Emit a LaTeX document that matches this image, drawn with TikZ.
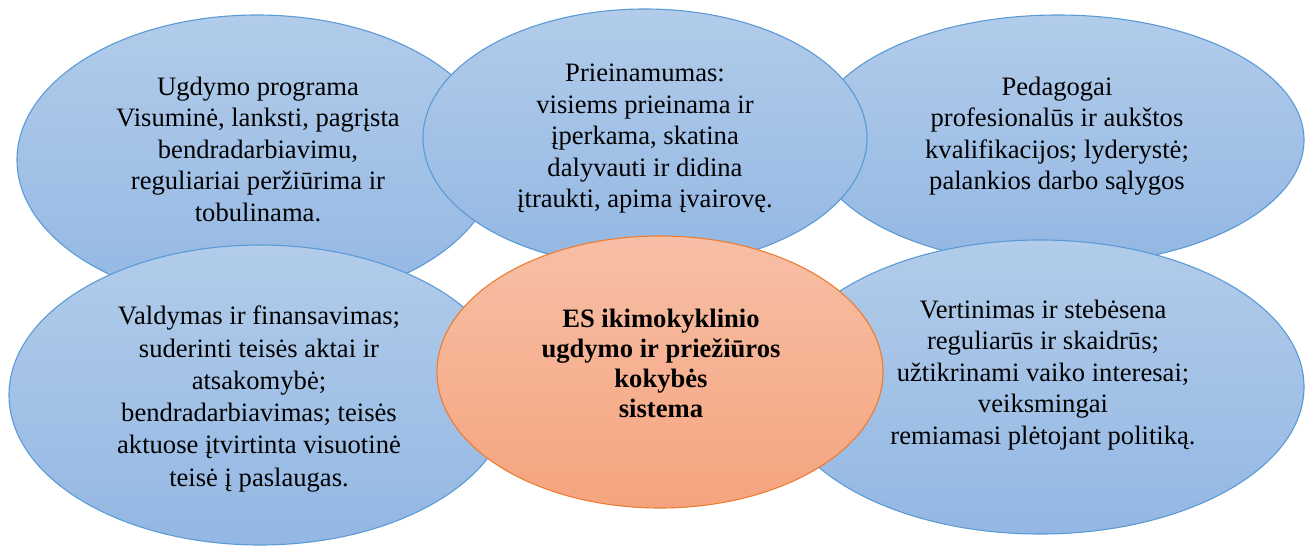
\documentclass[tikz,border=0pt]{standalone}
\usepackage{fontspec}
\setmainfont{Liberation Serif}
\usetikzlibrary{shapes.geometric}
\definecolor{bluetop}{HTML}{B2CCEA}
\definecolor{bluebot}{HTML}{93B7E3}
\definecolor{bluedraw}{HTML}{5B9BD5}
\definecolor{orgtop}{HTML}{F7BFA6}
\definecolor{orgbot}{HTML}{F5A47E}
\definecolor{orgdraw}{HTML}{ED7D31}
\tikzset{
  blueell/.style={ellipse, inner sep=0pt, draw=bluedraw, line width=1.1pt, top color=bluetop, bottom color=bluebot},
  orangeell/.style={ellipse, inner sep=0pt, draw=orgdraw, line width=1.1pt, top color=orgtop, bottom color=orgbot},
  txt/.style={align=center, inner sep=0pt, font=\fontsize{26.6}{31.5}\selectfont, text=black}
}
\begin{document}
\begin{tikzpicture}[x=1pt,y=-1pt]
\useasboundingbox (0,0) rectangle (1307,546);
\node[blueell, minimum width=480pt, minimum height=290pt] (tl) at (257,160) {};
\node[blueell, minimum width=492pt, minimum height=250pt] (tr) at (1058,140) {};
\node[blueell, minimum width=444pt, minimum height=258pt] (tc) at (645,138) {};
\node[blueell, minimum width=502pt, minimum height=300pt] (bl) at (260,395) {};
\node[blueell, minimum width=528pt, minimum height=294pt] (br) at (1040,387) {};
\node[orangeell, minimum width=446pt, minimum height=272pt] (c) at (660,372) {};
\node[txt] (ttl) at (258,149) {Ugdymo programa\\Visuminė, lanksti, pagrįsta\\bendradarbiavimu,\\reguliariai peržiūrima ir\\tobulinama.};
\node[txt] (ttc) at (645,139) {Prieinamumas:\\visiems prieinama ir\\įperkama, skatina\\dalyvauti ir didina\\įtraukti, apima įvairovę.};
\node[txt] (ttr) at (1057,136) {Pedagogai\\profesionalūs ir aukštos\\kvalifikacijos; lyderystė;\\palankios darbo sąlygos};
\node[txt, font=\fontsize{26.6}{32.3}\selectfont] (tbl) at (259,399) {Valdymas ir finansavimas;\\suderinti teisės aktai ir\\atsakomybė;\\bendradarbiavimas; teisės\\aktuose įtvirtinta visuotinė\\teisė į paslaugas.};
\node[txt, font=\fontsize{26.6}{30}\bfseries] (tc2) at (661,363) {ES ikimokyklinio\\ugdymo ir priežiūros\\kokybės\\sistema};
\node[txt] (tbr) at (1043,375) {Vertinimas ir stebėsena\\reguliarūs ir skaidrūs;\\užtikrinami vaiko interesai;\\veiksmingai\\remiamasi plėtojant politiką.};
\end{tikzpicture}
\end{document}
